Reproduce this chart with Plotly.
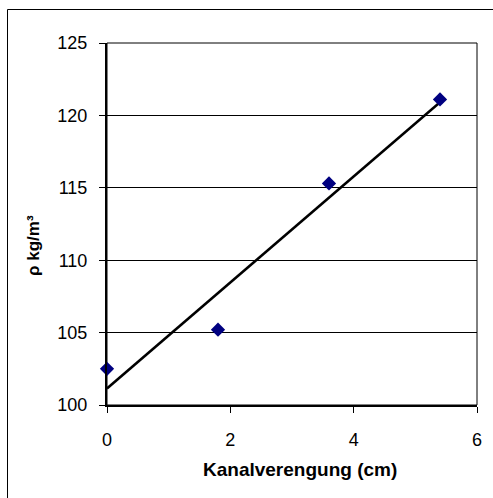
import numpy as np
import plotly.graph_objects as go

x_vals = [0.0, 1.8, 3.6, 5.4]
rho_vals = [102.5, 105.2, 115.3, 121.1]
x_ticks = [0, 2, 4, 6]
y_ticks = [100, 105, 110, 115, 120, 125]

slope, intercept = np.polyfit(x_vals, rho_vals, 1)
trend_x = [min(x_vals), max(x_vals)]
trend_y = [intercept + slope * v for v in trend_x]

W, H = 493, 498
L, R, T, B = 107, 16, 43, 93
pw, ph = W - L - R, H - T - B


def px(xp):
    return (xp - L) / pw


def py(yp):
    return (T + ph - yp) / ph


fig = go.Figure()
fig.add_trace(go.Scatter(x=trend_x, y=trend_y, mode="lines",
                         line=dict(color="black", width=2.5), showlegend=False, hoverinfo="skip"))
fig.add_trace(go.Scatter(x=x_vals, y=rho_vals, mode="markers", cliponaxis=False,
                         marker=dict(symbol="diamond", size=11, color="#000080"),
                         showlegend=False))

fam = "Liberation Sans, Arial, sans-serif"
tick_font = dict(family=fam, size=18, color="black")

fig.update_layout(
    width=W, height=H,
    margin=dict(l=L, r=R, t=T, b=B),
    paper_bgcolor="white", plot_bgcolor="white",
    font=tick_font,
    xaxis=dict(range=[0, 6], tickvals=x_ticks, showgrid=False, zeroline=False,
               showline=True, linecolor="black", linewidth=2,
               ticks="outside", ticklen=6, tickwidth=1, tickcolor="black",
               ticklabelstandoff=11, tickfont=tick_font),
    yaxis=dict(range=[100, 125], tickvals=y_ticks, showgrid=True, gridcolor="black", gridwidth=1,
               zeroline=False, showline=True, linecolor="black", linewidth=2,
               ticks="outside", ticklen=6, tickwidth=1, tickcolor="black",
               ticklabelstandoff=8, tickfont=tick_font),
    annotations=[
        dict(text="<b>Kanalverengung (cm)</b>", xref="paper", yref="paper",
             x=px(300), y=py(469), xanchor="center", yanchor="middle", showarrow=False,
             font=dict(family=fam, size=19, color="black")),
        dict(text="<b>ρ kg/m³</b>", xref="paper", yref="paper", textangle=-90,
             x=px(34), y=py(246), xanchor="center", yanchor="middle", showarrow=False,
             font=dict(family=fam, size=17, color="black")),
    ],
    shapes=[
        dict(type="rect", xref="paper", yref="paper", x0=0, x1=1, y0=0, y1=1,
             line=dict(color="black", width=1), layer="below"),
        dict(type="rect", xref="paper", yref="paper",
             x0=px(7.5), x1=px(W + 10), y0=py(H + 10), y1=py(9.5),
             line=dict(color="black", width=1), layer="below"),
    ],
)

fig.write_html("out.html", config={"displayModeBar": False},
               post_script="document.body.style.margin='0';document.body.style.overflow='hidden';")
